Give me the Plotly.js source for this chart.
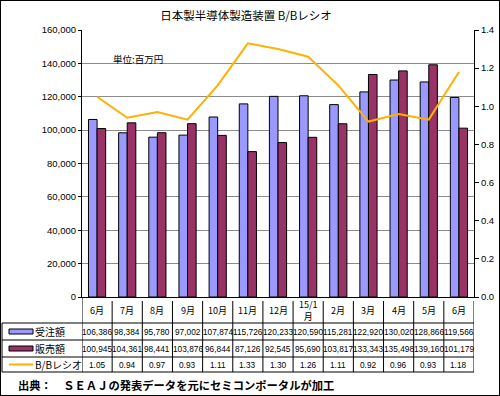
<!DOCTYPE html>
<html><head><meta charset="utf-8">
<script src="https://cdn.plot.ly/plotly-3.0.1.min.js"></script>
<style>
body{margin:0;padding:0;background:#fff;}
#wrap{position:relative;width:500px;height:396px;}
#chart{position:absolute;left:0;top:0;width:500px;height:396px;}
#frame{position:absolute;left:0;top:0;width:500px;height:396px;box-sizing:border-box;border:1px solid #000;pointer-events:none;}
</style></head>
<body>
<div id="wrap"><div id="chart"></div><div id="frame"></div></div>
<script>
const categories = ['6月','7月','8月','9月','10月','11月','12月','15/1<br>月','2月','3月','4月','5月','6月'];
const orders = [106386, 98384, 95780, 97002, 107874, 115726, 120233, 120590, 115281, 122920, 130020, 128866, 119566];
const sales  = [100945, 104361, 98441, 103876, 96844, 87126, 92545, 95690, 103817, 133343, 135498, 139160, 101179];
const bbRatio = [1.05, 0.94, 0.97, 0.93, 1.11, 1.33, 1.30, 1.26, 1.11, 0.92, 0.96, 0.93, 1.18];
const seriesNames = ['受注額','販売額','B/Bレシオ'];
const leftTicks = [0,20000,40000,60000,80000,100000,120000,140000,160000];
const rightTicks = [0,0.2,0.4,0.6,0.8,1.0,1.2,1.4];

const colors = {orders:'#9999FF', sales:'#993366', bb:'#FFB000'};
const idx = categories.map((c,i)=>i);

const traces = [
  {type:'bar', x:idx, y:orders, name:seriesNames[0], marker:{color:colors.orders, line:{color:'#000', width:1}}, hoverinfo:'skip'},
  {type:'bar', x:idx, y:sales, name:seriesNames[1], marker:{color:colors.sales, line:{color:'#000', width:1}}, hoverinfo:'skip'},
  {type:'scatter', mode:'lines', x:idx, y:bbRatio, yaxis:'y2', name:seriesNames[2], line:{color:colors.bb, width:2}, hoverinfo:'skip'}
];

// geometry of table (paper coords relative to plot area: plot top=30px, bottom=297px)
const plotTop = 30, plotBot = 297, plotH = plotBot - plotTop;
const py = p => (plotBot - p) / plotH;
const rowEdges = [297, 323, 340, 357, 372];
const tableLeftX = 2; // px
const plotLeft = 82, plotRight = 474, plotW = plotRight - plotLeft;
const px = p => (p - plotLeft) / plotW;

const shapes = [];
const annotations = [];
// vertical lines at category boundaries
for (let i = 0; i <= categories.length; i++) {
  shapes.push({type:'line', xref:'x', yref:'paper', x0:i-0.5, x1:i-0.5, y0:py(i===0?plotBot:plotBot+4), y1:py(rowEdges[4]), line:{color:'#000', width:1}});
}
// horizontal row lines
for (let r = 1; r < rowEdges.length; r++) {
  shapes.push({type:'line', xref:'paper', yref:'paper', x0:px(tableLeftX), x1:1, y0:py(rowEdges[r]), y1:py(rowEdges[r]), line:{color:'#000', width:1}});
}
// table left border (legend column)
shapes.push({type:'line', xref:'paper', yref:'paper', x0:px(tableLeftX), x1:px(tableLeftX), y0:py(rowEdges[1]), y1:py(rowEdges[4]), line:{color:'#000', width:1}});

// legend swatches
const rowMid = r => py((rowEdges[r] + rowEdges[r+1]) / 2);
shapes.push({type:'rect', xref:'paper', yref:'paper', x0:px(9), x1:px(33), y0:rowMid(1)-2.5/plotH, y1:rowMid(1)+2.5/plotH, fillcolor:colors.orders, line:{color:'#000', width:1}});
shapes.push({type:'rect', xref:'paper', yref:'paper', x0:px(9), x1:px(33), y0:rowMid(2)-2.5/plotH, y1:rowMid(2)+2.5/plotH, fillcolor:colors.sales, line:{color:'#000', width:1}});
shapes.push({type:'line', xref:'paper', yref:'paper', x0:px(9), x1:px(33), y0:rowMid(3), y1:rowMid(3), line:{color:colors.bb, width:2}});

const tf = {family:'Liberation Sans, Arial, sans-serif', size:8.3, color:'#000'};
const jf = {family:'Noto Sans CJK JP, sans-serif', size:9, color:'#000'};
// legend labels
seriesNames.forEach((n, k) => {
  annotations.push({xref:'paper', yref:'paper', x:px(33), y:rowMid(k+1), text:n, showarrow:false, xanchor:'left', yanchor:'middle', font:{family:'Noto Sans CJK JP, sans-serif', size:10, color:'#000'}});
});
const fmt = v => v.toLocaleString('en-US');
categories.forEach((c, i) => {
  annotations.push({xref:'x', yref:'paper', x:i, y:rowMid(0), text:c, showarrow:false, yanchor:'middle', font:jf});
  annotations.push({xref:'x', yref:'paper', x:i, y:rowMid(1), text:fmt(orders[i]), showarrow:false, yanchor:'middle', font:tf});
  annotations.push({xref:'x', yref:'paper', x:i, y:rowMid(2), text:fmt(sales[i]), showarrow:false, yanchor:'middle', font:tf});
  annotations.push({xref:'x', yref:'paper', x:i, y:rowMid(3), text:bbRatio[i].toFixed(2), showarrow:false, yanchor:'middle', font:tf});
});
// unit label
annotations.push({xref:'paper', yref:'paper', x:px(111), y:py(59), text:'単位:百万円', showarrow:false, xanchor:'left', yanchor:'middle', font:{family:'Noto Sans CJK JP, sans-serif', size:9.5, color:'#000'}});
// source
annotations.push({xref:'paper', yref:'paper', x:px(16), y:py(385), text:'<b>出典：　ＳＥＡＪの発表データを元にセミコンポータルが加工</b>', showarrow:false, xanchor:'left', yanchor:'middle', font:{family:'Noto Sans CJK JP, serif', size:11.3, color:'#000'}});

const layout = {
  width:500, height:396,
  margin:{l:plotLeft, r:500-plotRight, t:plotTop, b:396-plotBot, pad:0},
  paper_bgcolor:'#fff', plot_bgcolor:'#fff',
  title:{text:'日本製半導体製造装置 B/Bレシオ', x:246/500, xanchor:'center', y:1-16/396, yanchor:'middle', font:{family:'Noto Sans CJK JP, sans-serif', size:11.5, color:'#000'}},
  showlegend:false,
  barmode:'group', bargap:0.43, bargroupgap:0,
  xaxis:{range:[-0.5, categories.length-0.5], showticklabels:false, showgrid:false, zeroline:false, showline:true, linecolor:'#000', linewidth:1, ticks:'', fixedrange:true},
  yaxis:{range:[0,160000], tickvals:leftTicks, tickformat:',d', showgrid:true, gridcolor:'#8c8c8c', gridwidth:1, zeroline:false, showline:true, linecolor:'#000', linewidth:1, ticks:'outside', ticklen:3, tickcolor:'#000', tickfont:{family:'Liberation Sans, Arial, sans-serif', size:9.5, color:'#000'}},
  yaxis2:{range:[0,1.4], tickvals:rightTicks, tickformat:'.1f', overlaying:'y', side:'right', showgrid:false, zeroline:false, showline:true, linecolor:'#000', linewidth:1, ticks:'outside', ticklen:4, tickcolor:'#000', tickfont:{family:'Liberation Sans, Arial, sans-serif', size:9.5, color:'#000'}},
  shapes:shapes, annotations:annotations
};
Plotly.newPlot('chart', traces, layout, {displayModeBar:false, staticPlot:true});
</script>
</body></html>
